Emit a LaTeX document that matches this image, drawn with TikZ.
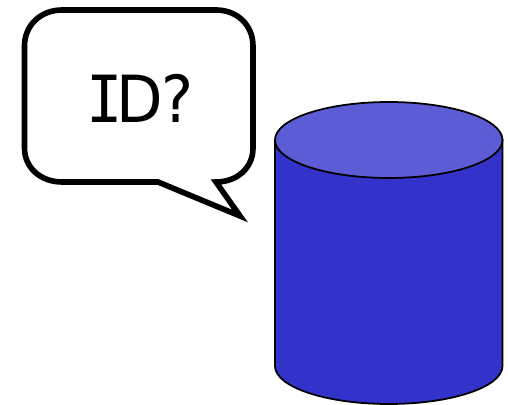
\documentclass[tikz,border=0pt]{standalone}
\usepackage{fontspec}
\setmainfont{DejaVu Sans}
\newfontfamily\monoserif{DejaVu Sans Mono}
\definecolor{clrDrum}{RGB}{51,51,204}
\definecolor{clrTop}{RGB}{92,92,214}
\tikzset{
  bubble/.style={draw=black,fill=white,line width=3.2pt,miter limit=10},
  drumbody/.style={draw=black,fill=clrDrum,line width=1pt},
  drumtop/.style={draw=black,fill=clrTop,line width=1pt},
  asktext/.style={font=\fontsize{37}{40}\selectfont,inner sep=0pt,text=black,
    xscale=0.93,transform shape}
}
\begin{document}
\begin{tikzpicture}[x=0.02cm,y=-0.02cm]
  \useasboundingbox (0,0) rectangle (508,405);

  % speech bubble
  \draw[bubble] (62,10) -- (216,10)
    .. controls (237,10) and (253,25) .. (253,46)
    -- (253,148)
    .. controls (253,168) and (237,182) .. (216,182)
    -- (240,216) -- (158,182) -- (62,182)
    .. controls (41,182) and (24.5,168) .. (24.5,148)
    -- (24.5,46)
    .. controls (24.5,25) and (41,10) .. (62,10) -- cycle;
  \node[asktext] (ask) at (140,98) {{\monoserif I}\kern-0.11em D\kern-0.03em ?};

  % database drum
  \draw[drumbody] (275,140) -- (275,366)
    arc[start angle=180,end angle=360,x radius=113.75,y radius=-38]
    -- (502.5,140) -- cycle;
  \draw[drumtop] (388.75,140) ellipse[x radius=113.75,y radius=38];
\end{tikzpicture}
\end{document}
